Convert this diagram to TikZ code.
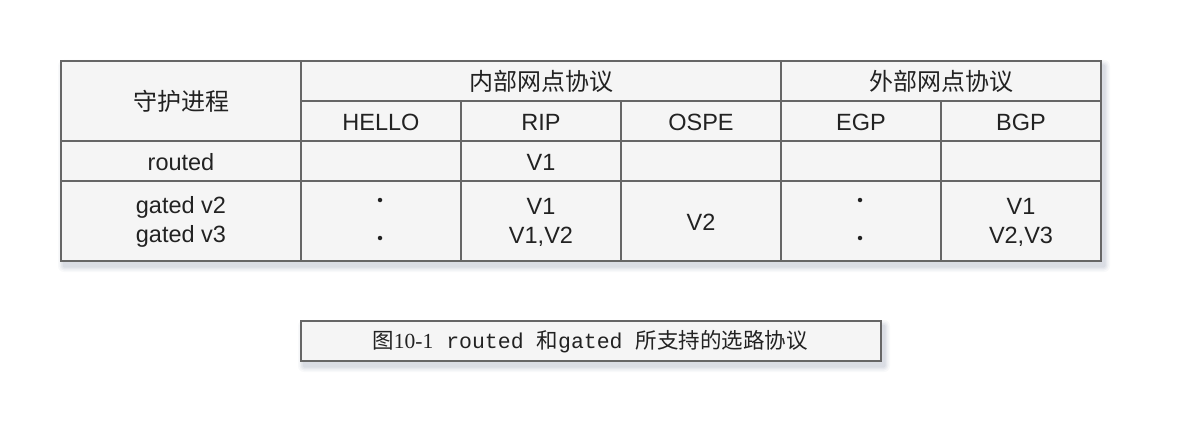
\documentclass[tikz,border=0pt]{standalone}
\usepackage{fontspec}
\setmainfont{Liberation Sans}
\newfontfamily\cjk{Noto Sans CJK SC}
\newfontfamily\capserif{Liberation Serif}
\newfontfamily\capmono{Liberation Mono}
\definecolor{gridline}{HTML}{666666}
\definecolor{cellfill}{HTML}{F5F5F5}
\definecolor{txt}{HTML}{222222}
\definecolor{shadowc}{HTML}{8890A8}
\tikzset{
  cell/.style={font=\fontsize{23.5}{28}\selectfont, text=txt, inner sep=0pt, anchor=center, align=center},
  cjkcell/.style={font=\fontsize{24}{28}\selectfont\cjk, text=txt, inner sep=0pt, anchor=center},
  twoline/.style={cell, font=\fontsize{23.5}{29}\selectfont},
  dotmark/.style={circle, fill=txt, inner sep=0pt, minimum size=4.5pt},
  frame/.style={draw=gridline, line width=2pt},
}
\newcommand{\softshadow}[4]{%
  \foreach \k/\o in {6/0.05,4.5/0.07,3/0.09,1.5/0.12}{%
    \fill[shadowc, opacity=\o, rounded corners=\k pt] (#1-\k+3,#2-\k+5) rectangle (#3+\k+3,#4+\k+5);}}
\begin{document}
\begin{tikzpicture}[x=1pt,y=-1pt]
\useasboundingbox (0,0) rectangle (1184,444);
\fill[white] (0,0) rectangle (1184,444);
% shadows
\softshadow{61}{61}{1101}{261}
\softshadow{301}{321}{881}{361}
% table body
\fill[cellfill] (61,61) rectangle (1101,261);
\draw[frame] (61,61) rectangle (1101,261);
\draw[frame] (301,101) -- (1101,101);
\draw[frame] (61,141) -- (1101,141);
\draw[frame] (61,181) -- (1101,181);
\draw[frame] (301,61) -- (301,261);
\draw[frame] (781,61) -- (781,261);
\foreach \x in {461,621,941}{\draw[frame] (\x,101) -- (\x,261);}
% header texts
\node[cjkcell] (h0) at (181,101) {守护进程};
\node[cjkcell] (h1) at (541,81) {内部网点协议};
\node[cjkcell] (h2) at (941,81) {外部网点协议};
\node[cell] (p1) at (381,122) {HELLO};
\node[cell] (p2) at (541,122) {RIP};
\node[cell] (p3) at (701,122) {OSPE};
\node[cell] (p4) at (861,122) {EGP};
\node[cell] (p5) at (1021,122) {BGP};
% row routed
\node[cell] (r1) at (181,162) {routed};
\node[cell] (r1rip) at (541,162) {V1};
% row gated
\node[twoline] (g1) at (181,222) {gated v2\\gated v3};
\node[dotmark] (d1) at (380,200) {};
\node[dotmark] (d2) at (380,238) {};
\node[twoline] (g1rip) at (541,222) {V1\\V1,V2};
\node[cell] (g1ospf) at (701,222) {V2};
\node[dotmark] (d3) at (860,200) {};
\node[dotmark] (d4) at (860,238) {};
\node[twoline] (g1bgp) at (1021,222) {V1\\V2,V3};
% caption
\fill[cellfill] (301,321) rectangle (881,361);
\draw[frame] (301,321) rectangle (881,361);
\node[inner sep=0pt, text=txt, font=\fontsize{21.5}{24}\selectfont] (cap) at (590,342)
  {{\cjk 图}{\capserif 10-1}{\capmono{} routed }{\cjk 和}{\capmono gated }{\cjk 所支持的选路协议}};
\end{tikzpicture}
\end{document}
